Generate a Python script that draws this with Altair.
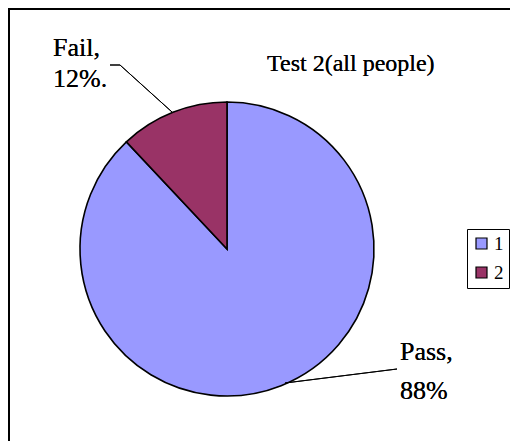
import altair as alt
import pandas as pd

# Data
categories = ["1", "2"]
label_names = ["Pass", "Fail"]
percent_values = [88, 12]
colors = ["#9999FF", "#993366"]
title_text = "Test 2(all people)"

df = pd.DataFrame({
    "category": categories,
    "name": label_names,
    "value": percent_values,
    "order": list(range(len(categories))),
})

W, H = 510, 441
FONT = "Liberation Serif"
CX, CY, R = 227, 249, 147

base = alt.Chart(df)

pie = base.mark_arc(outerRadius=R, stroke="black", strokeWidth=1.6).encode(
    theta=alt.Theta("value:Q", stack=True),
    order=alt.Order("order:Q"),
    color=alt.Color(
        "category:N",
        scale=alt.Scale(domain=categories, range=colors),
        legend=alt.Legend(
            title=None,
            orient="none",
            legendX=467,
            legendY=229,
            padding=5,
            strokeColor="black",
            fillColor="white",
            symbolType="square",
            symbolSize=121,
            symbolStrokeColor="black",
            symbolStrokeWidth=1.2,
            labelFont=FONT,
            labelFontSize=19,
            labelColor="black",
            rowPadding=9,
            labelOffset=3,
            cornerRadius=0,
        ),
    ),
    x=alt.value(CX),
    y=alt.value(CY),
)

frame = alt.Chart(df).mark_rect(filled=False, stroke="black", strokeWidth=2).encode(
    x=alt.value(9), y=alt.value(9), x2=alt.value(540), y2=alt.value(470)
)

def pct_label(name):
    row = df[df["name"] == name].iloc[0]
    return [f"{row['name']},", f"{row['value']}%" + ("." if name == "Fail" else "")]

fail_text = alt.Chart(df).mark_text(
    text=pct_label("Fail"), font=FONT, fontSize=26, align="left",
    baseline="alphabetic", lineHeight=31, color="black"
).encode(x=alt.value(53), y=alt.value(56))

pass_text = alt.Chart(df).mark_text(
    text=pct_label("Pass"), font=FONT, fontSize=26, align="left",
    baseline="alphabetic", lineHeight=39, color="black"
).encode(x=alt.value(400), y=alt.value(360))

title = alt.Chart(df).mark_text(
    text=title_text, font=FONT, fontSize=24, align="left",
    baseline="alphabetic", color="black"
).encode(x=alt.value(267), y=alt.value(71))

lead = dict(color="black", strokeWidth=1)
fail_dash = alt.Chart(df).mark_rule(**lead).encode(
    x=alt.value(110), x2=alt.value(120), y=alt.value(65), y2=alt.value(65))
fail_line = alt.Chart(df).mark_rule(**lead).encode(
    x=alt.value(120), x2=alt.value(172), y=alt.value(65), y2=alt.value(112))
pass_line = alt.Chart(df).mark_rule(**lead).encode(
    x=alt.value(285), x2=alt.value(397), y=alt.value(383), y2=alt.value(369))

chart = alt.layer(
    frame, pie, fail_dash, fail_line, pass_line, fail_text, pass_text, title
).properties(
    width=W, height=H, padding=0, autosize=alt.AutoSizeParams(type="none"),
    background="white",
).configure_view(strokeWidth=0)

chart.save("out.html", embed_options={"renderer": "svg", "actions": False})
